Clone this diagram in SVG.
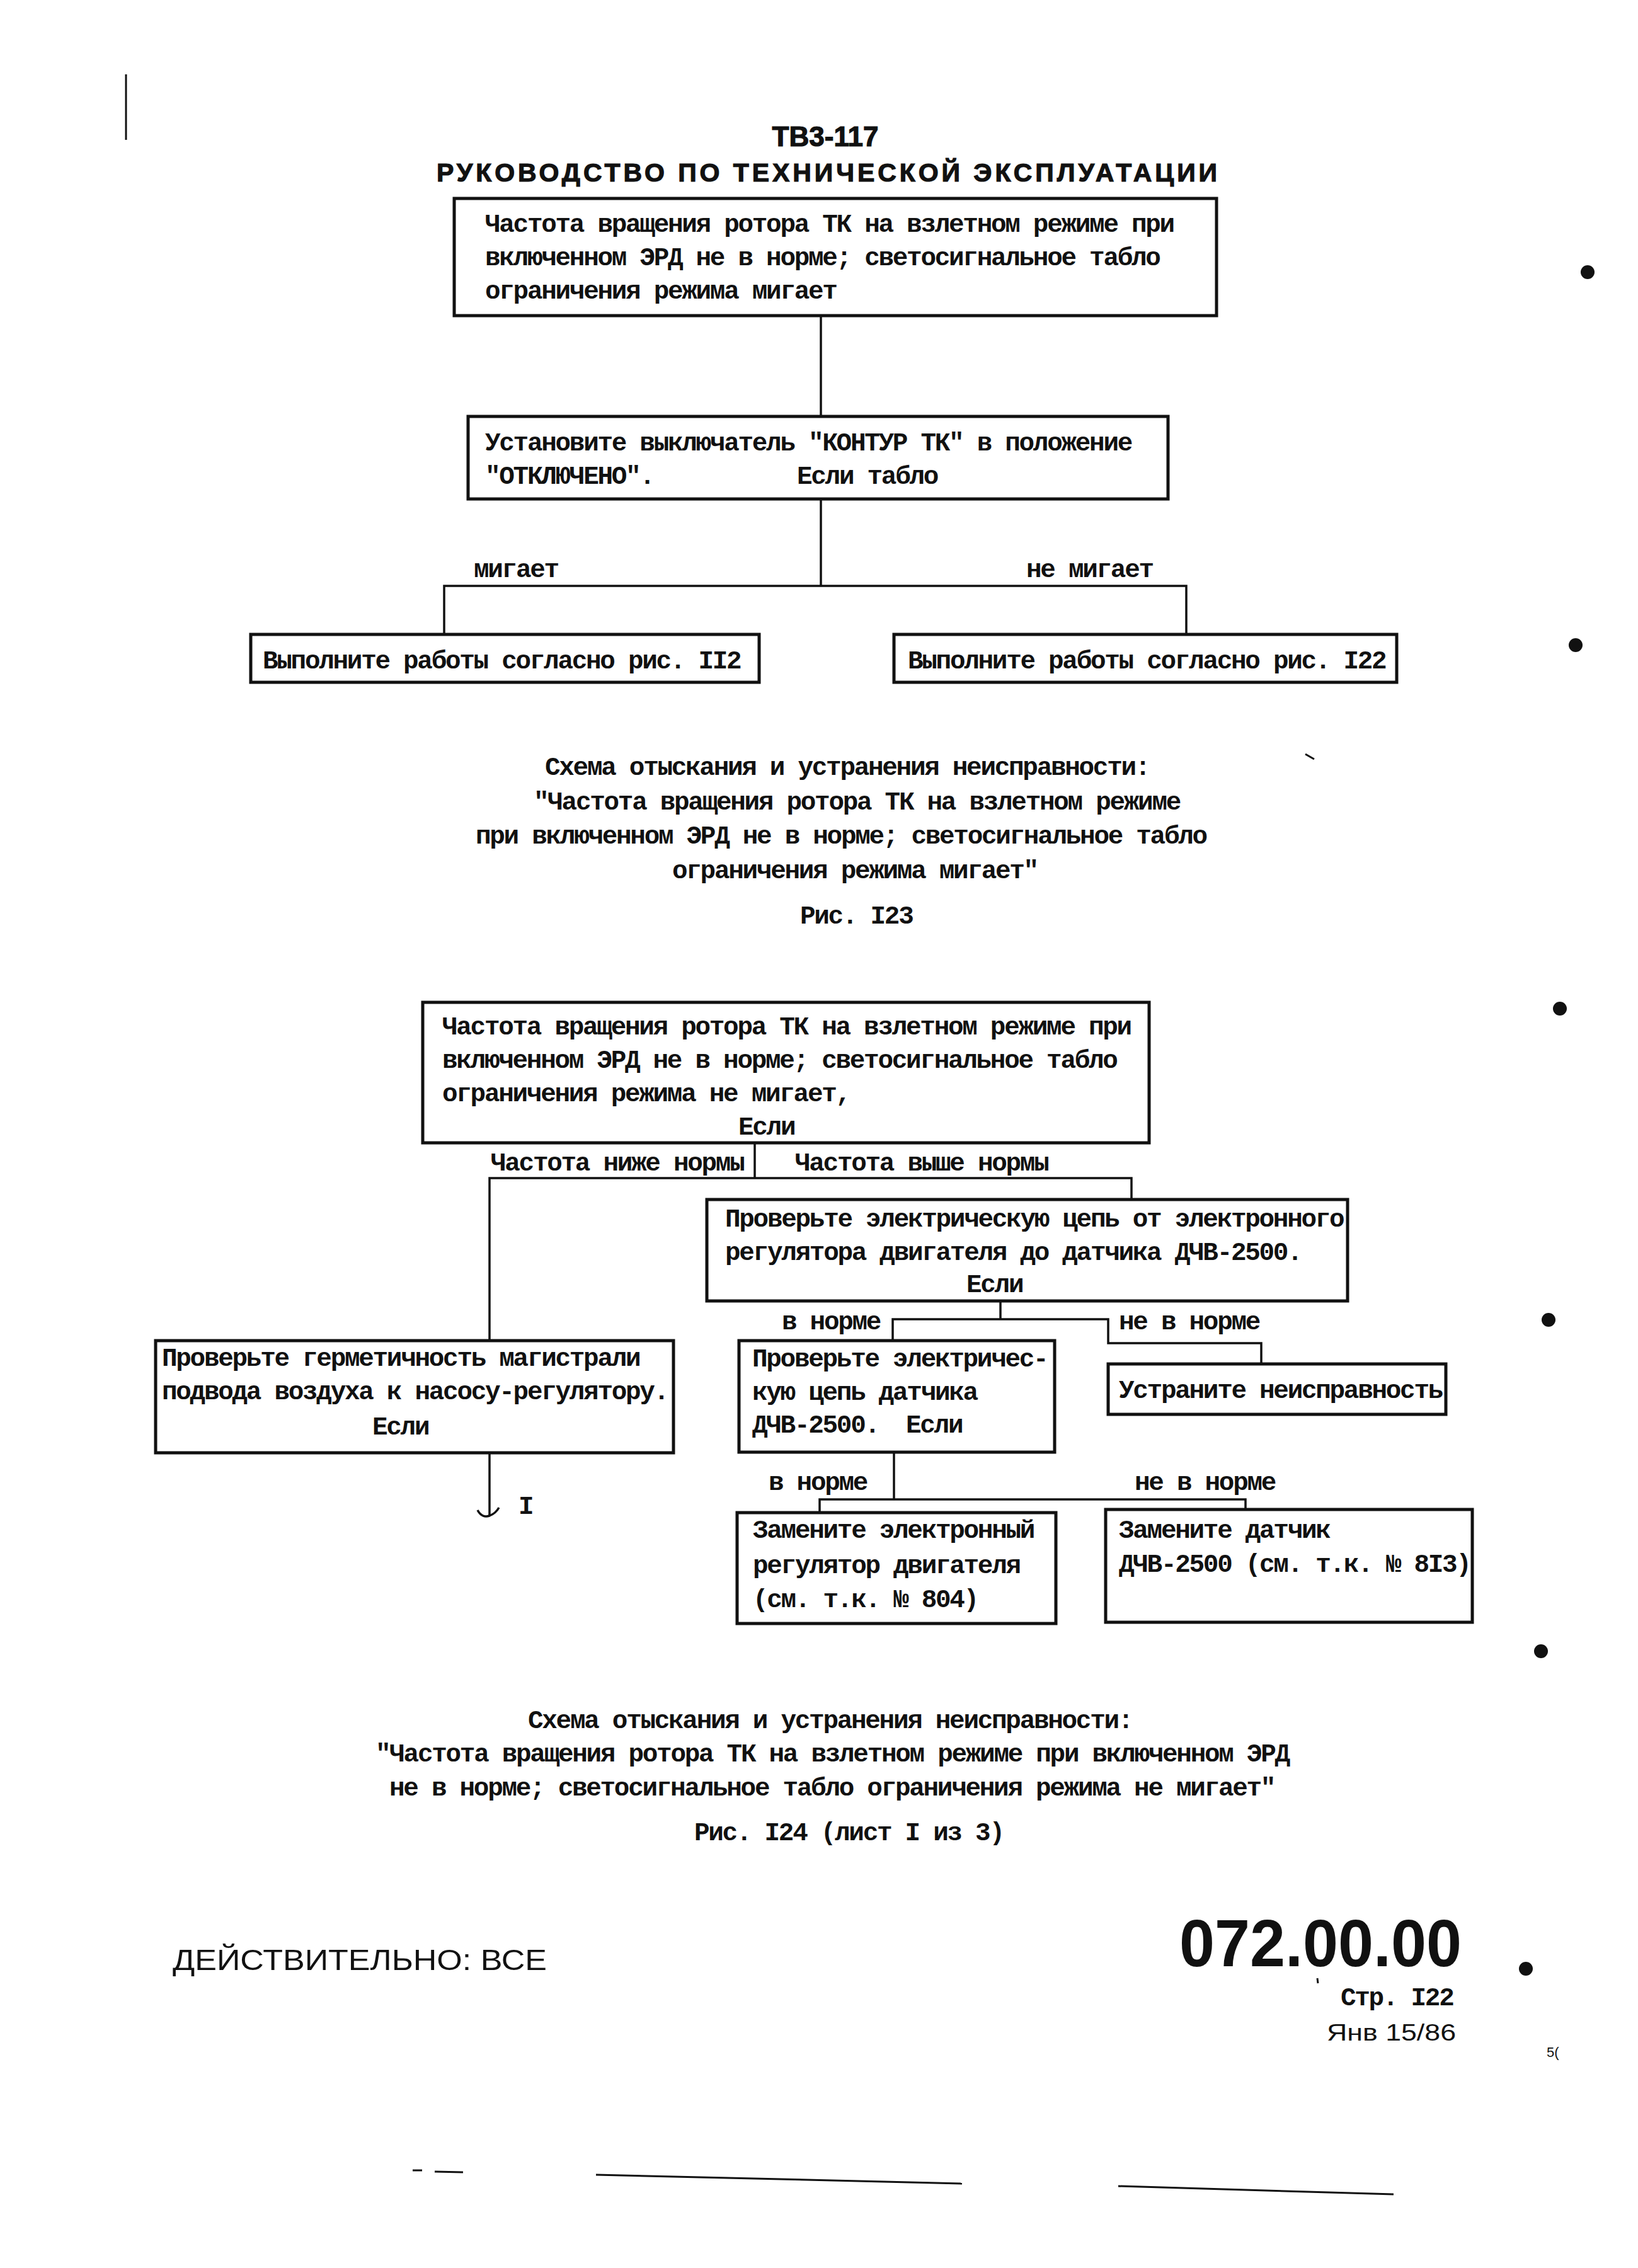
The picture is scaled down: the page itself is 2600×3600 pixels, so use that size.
<svg xmlns="http://www.w3.org/2000/svg" width="2600" height="3600" viewBox="0 0 2600 3600">
<style>
.bg{fill:#fff}
.box{fill:#fff;stroke:#111;stroke-width:5}
.ln{fill:none;stroke:#111;stroke-width:3.5}
.tw{font-family:"Liberation Mono","DejaVu Sans Mono",monospace;font-size:41px;letter-spacing:-2.3px;font-weight:bold;fill:#111}
.hd{font-family:"Liberation Sans",Arial,sans-serif;font-weight:bold;fill:#111}
.sf{font-family:"Liberation Sans",Arial,sans-serif;fill:#111}
.dot{fill:#111}
.mark{fill:none;stroke:#111;stroke-width:3}
</style>
<rect class="bg" x="0" y="0" width="2600" height="3600"/>

<g id="page-marks">
<line class="mark" x1="200" y1="118" x2="200" y2="222" stroke-width="2.5"/>
<circle class="dot" cx="2520" cy="432" r="11"/>
<circle class="dot" cx="2501" cy="1024" r="11"/>
<circle class="dot" cx="2476" cy="1601" r="11"/>
<circle class="dot" cx="2458" cy="2095" r="11"/>
<circle class="dot" cx="2446" cy="2621" r="11"/>
<circle class="dot" cx="2422" cy="3125" r="11"/>
<line class="mark" x1="2072" y1="1197" x2="2086" y2="1205" stroke-width="2"/>
<line class="mark" x1="2091" y1="3140" x2="2092" y2="3148" stroke-width="2"/>
<line class="mark" x1="655" y1="3445" x2="670" y2="3445" stroke-width="2"/>
<line class="mark" x1="690" y1="3447" x2="735" y2="3448" stroke-width="2"/>
<line class="mark" x1="946" y1="3452" x2="1527" y2="3466" stroke-width="3.5"/>
<line class="mark" x1="1775" y1="3470" x2="2212" y2="3483" stroke-width="3.5"/>
</g>

<g id="header">
<text class="hd" x="1310" y="232" font-size="44" text-anchor="middle" stroke="#111" stroke-width="1.2">ТВ3-117</text>
<text class="hd" x="693" y="288" font-size="41" textLength="1239" lengthAdjust="spacing" stroke="#111" stroke-width="1.2">РУКОВОДСТВО ПО ТЕХНИЧЕСКОЙ ЭКСПЛУАТАЦИИ</text>
</g>

<g id="connectors">
<polyline class="ln" points="1303,501 1303,661"/>
<polyline class="ln" points="1303,792 1303,930"/>
<polyline class="ln" points="705,1007 705,930 1883,930 1883,1007"/>
<polyline class="ln" points="1198,1814 1198,1870"/>
<polyline class="ln" points="777,2128 777,1870 1796,1870 1796,1904"/>
<polyline class="ln" points="1588,2065 1588,2094"/>
<polyline class="ln" points="1417,2128 1417,2094 1759,2094 1759,2132 2002,2132 2002,2165"/>
<polyline class="ln" points="777,2306 777,2405"/>
<path class="ln" d="M 758 2397 Q 765 2410 777 2406 Q 787 2402 792 2393"/>
<polyline class="ln" points="1419,2305 1419,2380"/>
<polyline class="ln" points="1301,2401 1301,2380 1977,2380 1977,2396"/>
</g>

<g id="connector-labels">
<text class="tw" x="752" y="916">мигает</text>
<text class="tw" x="1629" y="916">не мигает</text>
<text class="tw" x="779" y="1858">Частота ниже нормы</text>
<text class="tw" x="1262" y="1858">Частота выше нормы</text>
<text class="tw" x="1241" y="2110">в норме</text>
<text class="tw" x="1776" y="2110">не в норме</text>
<text class="tw" x="1220" y="2365">в норме</text>
<text class="tw" x="1801" y="2365">не в норме</text>
<text class="tw" x="823" y="2403">I</text>
</g>

<g id="n123-start">
<rect class="box" x="721" y="315" width="1210" height="186"/>
<text class="tw" x="770" y="368">Частота вращения ротора ТК на взлетном режиме при</text>
<text class="tw" x="770" y="421">включенном ЭРД не в норме; светосигнальное табло</text>
<text class="tw" x="770" y="474">ограничения режима мигает</text>
</g>

<g id="n123-switch">
<rect class="box" x="743" y="661" width="1111" height="131"/>
<text class="tw" x="770" y="715">Установите выключатель "КОНТУР ТК" в положение</text>
<text class="tw" x="770" y="768">"ОТКЛЮЧЕНО".</text>
<text class="tw" x="1265" y="768">Если табло</text>
</g>

<g id="n123-fig112">
<rect class="box" x="398" y="1007" width="807" height="76"/>
<text class="tw" x="417" y="1061">Выполните работы согласно рис. II2</text>
</g>

<g id="n123-fig122">
<rect class="box" x="1419" y="1007" width="798" height="76"/>
<text class="tw" x="1441" y="1061">Выполните работы согласно рис. I22</text>
</g>

<g id="caption-123">
<text class="tw" x="865" y="1230">Схема отыскания и устранения неисправности:</text>
<text class="tw" x="847" y="1285">"Частота вращения ротора ТК на взлетном режиме</text>
<text class="tw" x="755" y="1339">при включенном ЭРД не в норме; светосигнальное табло</text>
<text class="tw" x="1067" y="1394">ограничения режима мигает"</text>
<text class="tw" x="1270" y="1466">Рис. I23</text>
</g>

<g id="n124-start">
<rect class="box" x="671" y="1591" width="1153" height="223"/>
<text class="tw" x="702" y="1642">Частота вращения ротора ТК на взлетном режиме при</text>
<text class="tw" x="702" y="1695">включенном ЭРД не в норме; светосигнальное табло</text>
<text class="tw" x="702" y="1748">ограничения режима не мигает,</text>
<text class="tw" x="1172" y="1801">Если</text>
</g>

<g id="n124-circuit">
<rect class="box" x="1122" y="1904" width="1017" height="161"/>
<text class="tw" x="1151" y="1947">Проверьте электрическую цепь от электронного</text>
<text class="tw" x="1151" y="2000">регулятора двигателя до датчика ДЧВ-2500.</text>
<text class="tw" x="1534" y="2051">Если</text>
</g>

<g id="n124-sensor-circuit">
<rect class="box" x="1173" y="2128" width="501" height="177"/>
<text class="tw" x="1194" y="2169">Проверьте электричес-</text>
<text class="tw" x="1194" y="2222">кую цепь датчика</text>
<text class="tw" x="1194" y="2274">ДЧВ-2500.</text>
<text class="tw" x="1438" y="2274">Если</text>
</g>

<g id="n124-fix">
<rect class="box" x="1759" y="2165" width="536" height="80"/>
<text class="tw" x="1776" y="2219">Устраните неисправность</text>
</g>

<g id="n124-leak">
<rect class="box" x="247" y="2128" width="822" height="178"/>
<text class="tw" x="257" y="2168">Проверьте герметичность магистрали</text>
<text class="tw" x="257" y="2221">подвода воздуха к насосу-регулятору.</text>
<text class="tw" x="591" y="2277">Если</text>
</g>

<g id="n124-regulator">
<rect class="box" x="1170" y="2401" width="506" height="176"/>
<text class="tw" x="1195" y="2441">Замените электронный</text>
<text class="tw" x="1195" y="2497">регулятор двигателя</text>
<text class="tw" x="1195" y="2551">(см. т.к. № 804)</text>
</g>

<g id="n124-sensor">
<rect class="box" x="1755" y="2396" width="582" height="179"/>
<text class="tw" x="1776" y="2441">Замените датчик</text>
<text class="tw" x="1776" y="2495">ДЧВ-2500 (см. т.к. № 8I3)</text>
</g>

<g id="caption-124">
<text class="tw" x="838" y="2743">Схема отыскания и устранения неисправности:</text>
<text class="tw" x="596" y="2796">"Частота вращения ротора ТК на взлетном режиме при включенном ЭРД</text>
<text class="tw" x="618" y="2850">не в норме; светосигнальное табло ограничения режима не мигает"</text>
<text class="tw" x="1102" y="2921">Рис. I24 (лист I из 3)</text>
</g>

<g id="footer">
<text class="sf" x="274" y="3127" font-size="46" textLength="594" lengthAdjust="spacingAndGlyphs">ДЕЙСТВИТЕЛЬНО: ВСЕ</text>
<text class="hd" x="1872" y="3121" font-size="106" textLength="448" lengthAdjust="spacingAndGlyphs">072.00.00</text>
<text class="tw" x="2128" y="3183">Стр. I22</text>
<text class="sf" x="2106" y="3239" font-size="37" textLength="205" lengthAdjust="spacingAndGlyphs">Янв 15/86</text>
<text class="sf" x="2455" y="3265" font-size="22">5(</text>
</g>
</svg>
